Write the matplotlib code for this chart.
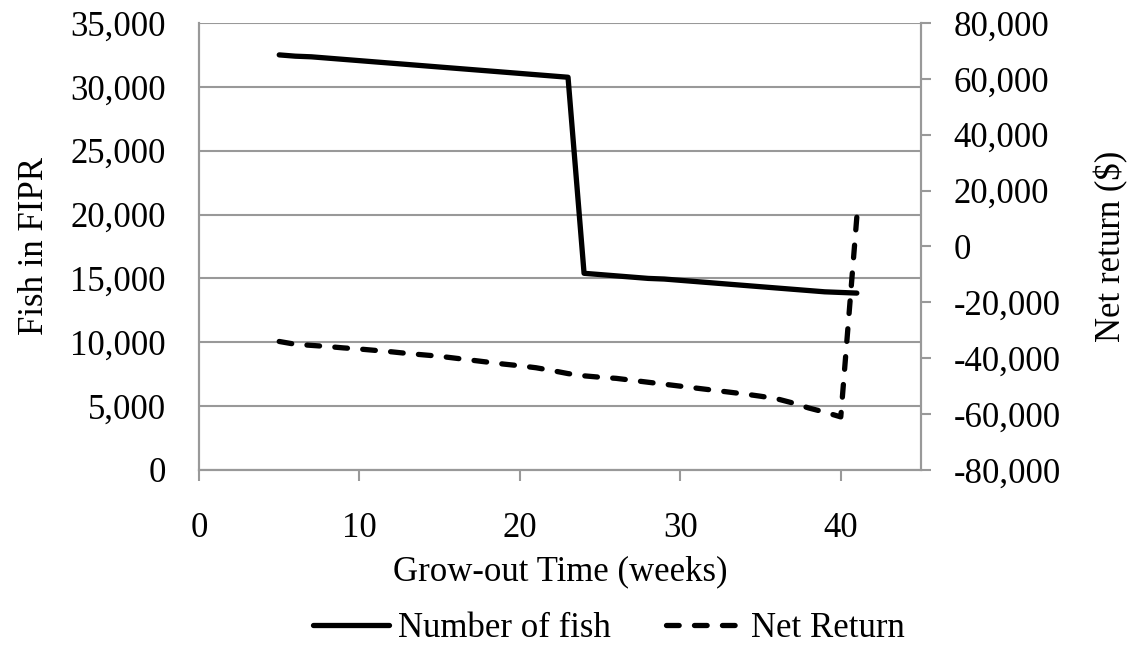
import matplotlib.pyplot as plt
from matplotlib.ticker import FuncFormatter, MultipleLocator

plt.rcParams['font.family'] = ['Liberation Serif', 'DejaVu Serif']

# weekly values
weeks = list(range(5, 42))
fish = [32500, 32400, 32350, 32250, 32150, 32050, 31950, 31850, 31750, 31650,
        31550, 31450, 31350, 31250, 31150, 31050, 30950, 30850, 30750,
        15400, 15300, 15200, 15100, 15000, 14950, 14850, 14750, 14650, 14550,
        14450, 14350, 14250, 14150, 14050, 13950, 13900, 13850]
net_return = [-34000, -35000, -35400, -35800, -36300, -36700, -37200, -37700,
              -38300, -38800, -39300, -40000, -40700, -41400, -42100, -42700,
              -43400, -44400, -45500, -46300, -46800, -47200, -47900, -48600,
              -49300, -50000, -50700, -51400, -52100, -52800, -53600, -54500,
              -56000, -57800, -59300, -61000, 10500]

fs = 25
grey = '#999999'

fig = plt.figure(figsize=(11.32, 6.6), dpi=100)
ax1 = fig.add_axes([0.1758, 0.2879, 0.6378, 0.6773])
ax2 = ax1.twinx()

l1, = ax1.plot(weeks, fish, color='black', lw=3.8, solid_capstyle='round',
               solid_joinstyle='round', label='Number of fish')
l2, = ax2.plot(weeks, net_return, color='black', lw=3.8, linestyle=(0, (2.4, 2.9)),
               dash_capstyle='round', label='Net Return')

ax1.set_xlim(0, 45)
ax1.set_ylim(0, 35000)
ax2.set_ylim(-80000, 80000)
ax1.xaxis.set_major_locator(MultipleLocator(10))
ax1.yaxis.set_major_locator(MultipleLocator(5000))
ax2.yaxis.set_major_locator(MultipleLocator(20000))
fmt = FuncFormatter(lambda v, p: f'{v:,.0f}')
ax1.yaxis.set_major_formatter(fmt)
ax2.yaxis.set_major_formatter(fmt)

ax1.grid(axis='y', color=grey, lw=1.5)
ax1.set_axisbelow(True)

for ax in (ax1, ax2):
    ax.spines['top'].set_visible(False)
    for s in ('left', 'right', 'bottom'):
        ax.spines[s].set_color(grey)
        ax.spines[s].set_linewidth(1.5)

ax1.tick_params(axis='y', length=0, pad=24, labelsize=fs)
ax1.tick_params(axis='x', direction='out', length=8, width=1.5, color=grey,
                pad=22, labelsize=fs)
ax2.tick_params(axis='y', direction='out', length=7.5, width=1.5, color=grey,
                pad=16, labelsize=fs)

ax1.set_xlabel('Grow-out Time (weeks)', fontsize=fs, labelpad=8)
ax1.set_ylabel('Fish in FIPR', fontsize=fs, labelpad=14)
ax2.set_ylabel('Net return ($)', fontsize=fs, labelpad=24)

fig.legend(handles=[l1, l2], loc='center', bbox_to_anchor=(0.538, 0.048),
           ncol=2, frameon=False, fontsize=fs, handlelength=2.2,
           handletextpad=0.25, columnspacing=1.6)

fig.savefig('out.png', dpi=100)
